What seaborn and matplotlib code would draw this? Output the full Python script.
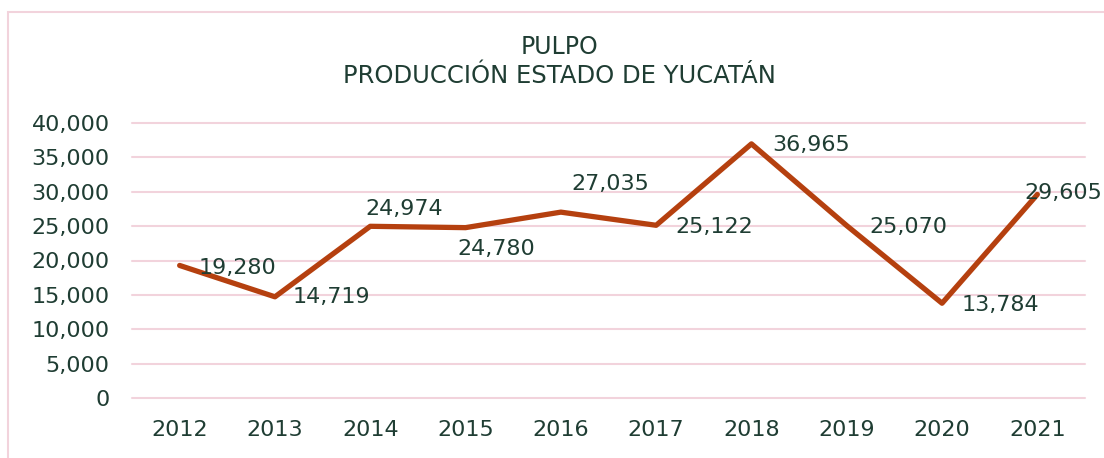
import matplotlib
matplotlib.use("Agg")
from matplotlib import pyplot as plt
from matplotlib.patches import Rectangle
from matplotlib.ticker import FuncFormatter
import seaborn as sns
import pandas as pd

# data
years = ["2012", "2013", "2014", "2015", "2016", "2017", "2018", "2019", "2020", "2021"]
production = [19280, 14719, 24974, 24780, 27035, 25122, 36965, 25070, 13784, 29605]

# label placement (pixel offsets from each point)
label_offsets = [(58, -3), (56, 0), (34, 17), (31, -21), (49, 28),
                 (58, -2), (60, -1), (62, -1), (58, -2), (26, 1)]

TEXT_COLOR = "#1f3d33"
LINE_COLOR = "#b5400f"
GRID_COLOR = "#f2d3dc"
FS = 16

sns.set_style("white")
plt.rcParams["font.family"] = ["DejaVu Sans"]

df = pd.DataFrame({"year": years, "production": production})

fig = plt.figure(figsize=(11.04, 4.58), dpi=100)
ax = fig.add_axes([132 / 1104, 60 / 458, (1085 - 132) / 1104, 275 / 458])

sns.lineplot(data=df, x="year", y="production", color=LINE_COLOR,
             linewidth=3.8, sort=False, ax=ax)

ax.set_xlim(-0.5, len(years) - 0.5)
ax.set_ylim(0, 40000)
ax.set_yticks(range(0, 40001, 5000))
ax.yaxis.set_major_formatter(FuncFormatter(lambda v, p: f"{int(v):,}"))
ax.grid(axis="y", color=GRID_COLOR, linewidth=1.5)
ax.set_axisbelow(True)
for gl in ax.get_ygridlines():
    gl.set_clip_on(False)
for s in ax.spines.values():
    s.set_visible(False)
ax.tick_params(axis="y", length=0, pad=16, labelsize=FS, labelcolor=TEXT_COLOR)
ax.tick_params(axis="x", length=0, pad=16, labelsize=FS, labelcolor=TEXT_COLOR)
ax.set_xlabel("")
ax.set_ylabel("")

for i, (val, (dx, dy)) in enumerate(zip(production, label_offsets)):
    ax.annotate(f"{val:,}", xy=(i, val), xytext=(dx, dy), textcoords="offset pixels",
                ha="center", va="center", fontsize=FS, color=TEXT_COLOR,
                annotation_clip=False)

fig.text(0.507, 1 - 47 / 458, "PULPO", ha="center", va="center",
         fontsize=17, color=TEXT_COLOR)
fig.text(0.507, 1 - 76 / 458, "PRODUCCIÓN ESTADO DE YUCATÁN", ha="center", va="center",
         fontsize=17.5, color=TEXT_COLOR)

# chart border (runs past the right/bottom edge, as in the reference)
fig.patches.append(Rectangle((8 / 1104, -0.1), 1.2, 1.1 - 12 / 458,
                             transform=fig.transFigure, fill=False,
                             edgecolor=GRID_COLOR, linewidth=1.5))

fig.savefig("out.png", dpi=100)
